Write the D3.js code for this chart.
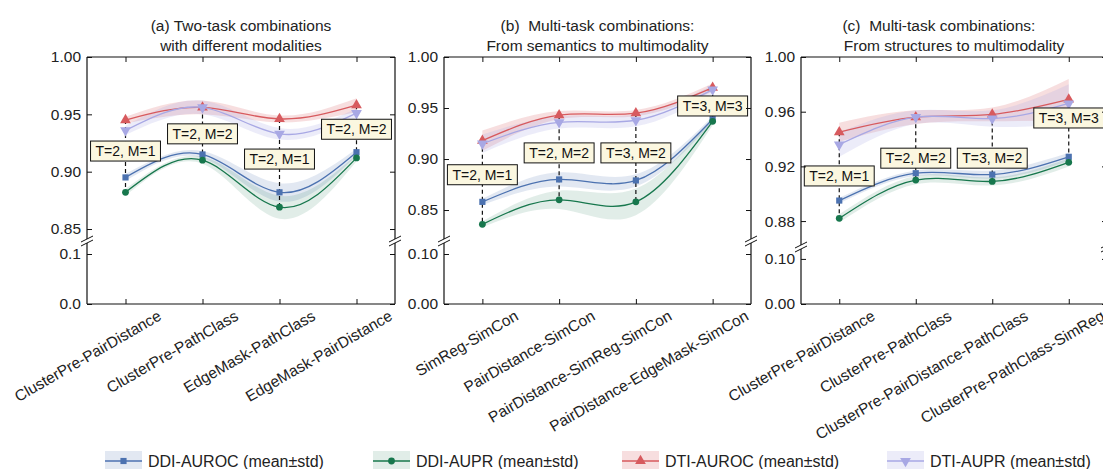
<!DOCTYPE html>
<html>
<head>
<meta charset="utf-8">
<script src="https://cdn.jsdelivr.net/npm/d3@7"></script>
<style>
  body { margin: 0; background: #fff; }
  svg { font-family: Arial, "Liberation Sans", sans-serif; }
</style>
</head>
<body>
<svg id="chart" width="1103" height="469"></svg>
<script>
// ---- data ----
let catsA = ["ClusterPre-PairDistance", "ClusterPre-PathClass", "EdgeMask-PathClass", "EdgeMask-PairDistance"];
let catsB = ["SimReg-SimCon", "PairDistance-SimCon", "PairDistance-SimReg-SimCon", "PairDistance-EdgeMask-SimCon"];
let catsC = ["ClusterPre-PairDistance", "ClusterPre-PathClass", "ClusterPre-PairDistance-PathClass", "ClusterPre-PathClass-SimReg"];
let cats = [catsA, catsB, catsC];

let titles = [
    ["(a) Two-task combinations", "with different modalities"],
    ["(b)  Multi-task combinations:", "From semantics to multimodality"],
    ["(c)  Multi-task combinations:       ", "From structures to multimodality"]
];

// mean values, one row per panel
let ddiAuroc = [[0.895, 0.915, 0.882, 0.917], [0.858, 0.880, 0.879, 0.939], [0.895, 0.915, 0.914, 0.927]];
let ddiAupr  = [[0.882, 0.910, 0.869, 0.912], [0.836, 0.860, 0.858, 0.937], [0.882, 0.910, 0.909, 0.923]];
let dtiAuroc = [[0.945, 0.956, 0.946, 0.958], [0.918, 0.943, 0.945, 0.970], [0.945, 0.956, 0.958, 0.969]];
let dtiAupr  = [[0.936, 0.956, 0.933, 0.951], [0.915, 0.936, 0.938, 0.968], [0.936, 0.956, 0.955, 0.966]];

// std values
let ddiAurocStd = [[0.003, 0.003, 0.008, 0.003], [0.003, 0.007, 0.006, 0.003], [0.002, 0.002, 0.003, 0.003]];
let ddiAuprStd  = [[0.003, 0.003, 0.010, 0.003], [0.003, 0.009, 0.013, 0.004], [0.003, 0.003, 0.003, 0.003]];
let dtiAurocStd = [[0.003, 0.006, 0.003, 0.006], [0.010, 0.004, 0.003, 0.004], [0.007, 0.005, 0.005, 0.015]];
let dtiAuprStd  = [[0.004, 0.006, 0.005, 0.004], [0.009, 0.006, 0.006, 0.004], [0.009, 0.005, 0.006, 0.014]];

// annotation boxes
let annoText = [
    ["T=2, M=1", "T=2, M=2", "T=2, M=1", "T=2, M=2"],
    ["T=2, M=1", "T=2, M=2", "T=3, M=2", "T=3, M=3"],
    ["T=2, M=1", "T=2, M=2", "T=3, M=2", "T=3, M=3"]
];
let annoY = [[0.918, 0.933, 0.911, 0.937], [0.8846, 0.906, 0.906, 0.952], [0.913, 0.926, 0.926, 0.9554]];

// y axis ticks
let yTicksTop = [[0.85, 0.90, 0.95, 1.00], [0.85, 0.90, 0.95, 1.00], [0.88, 0.92, 0.96, 1.00]];
let yTicksBottom = [0, 0.1];
let bottomFormats = [".1f", ".2f", ".2f"];

let seriesNames = ["DDI-AUROC (mean\u00b1std)", "DDI-AUPR (mean\u00b1std)", "DTI-AUROC (mean\u00b1std)", "DTI-AUPR (mean\u00b1std)"];
let seriesMeans = [ddiAuroc, ddiAupr, dtiAuroc, dtiAupr];
let seriesStds = [ddiAurocStd, ddiAuprStd, dtiAurocStd, dtiAuprStd];

// ---- styles / layout ----
let seriesColors = ["#4c72b0", "#17774d", "#d75a5e", "#a8a8e4"];
let bandOpacity = [0.16, 0.13, 0.2, 0.22];
let symbols = [d3.symbolSquare, d3.symbolCircle, d3.symbolTriangle, d3.symbolTriangle];
let symbolSizes = [38, 36, 50, 50];
let symbolRotate = [0, 0, 0, 180];

let plotTop = 57, plotBottom = 304;
let layout = [
    { left: 87, right: 395, brk: 241 },
    { left: 444, right: 751, brk: 241 },
    { left: 801, right: 1107, brk: 247 }
];
let yTopDomains = [[0.8413, 1.0], [0.8216, 1.0], [0.8625, 1.0]];
let yBottomDomain = [0, 0.122];

let svg = d3.select("#chart");

function symbolPath(k) {
    return d3.symbol().type(symbols[k]).size(symbolSizes[k])();
}

layout.forEach(function (L, p) {
    let g = svg.append("g");

    let x = d3.scalePoint().domain(cats[p]).range([L.left, L.right]).padding(0.5);
    let yTop = d3.scaleLinear().domain(yTopDomains[p]).range([L.brk - 2, plotTop]);
    let yBot = d3.scaleLinear().domain(yBottomDomain).range([plotBottom, L.brk + 2]);

    // title
    titles[p].forEach(function (t, i) {
        g.append("text")
            .attr("x", (L.left + L.right) / 2)
            .attr("y", 31 + i * 20)
            .attr("text-anchor", "middle")
            .style("font-size", "15.5px")
            .style("white-space", "pre")
            .attr("fill", "#222")
            .text(t);
    });

    // std bands
    seriesMeans.forEach(function (means, k) {
        let pts = means[p].map(function (m, i) { return { c: cats[p][i], m: m, s: seriesStds[k][p][i] }; });
        let area = d3.area()
            .curve(d3.curveNatural)
            .x(function (d) { return x(d.c); })
            .y0(function (d) { return yTop(d.m - d.s); })
            .y1(function (d) { return yTop(d.m + d.s); });
        g.append("path")
            .attr("d", area(pts))
            .attr("fill", seriesColors[k])
            .attr("fill-opacity", bandOpacity[k]);
    });

    // dashed guides from highest to lowest point
    cats[p].forEach(function (c, i) {
        let vals = seriesMeans.map(function (s) { return s[p][i]; });
        g.append("line")
            .attr("x1", x(c)).attr("x2", x(c))
            .attr("y1", yTop(d3.max(vals))).attr("y2", yTop(d3.min(vals)))
            .attr("stroke", "#111")
            .attr("stroke-width", 1.2)
            .attr("stroke-dasharray", "4,3");
    });

    // lines and markers
    seriesMeans.forEach(function (means, k) {
        let pts = means[p].map(function (m, i) { return { c: cats[p][i], m: m }; });
        let line = d3.line()
            .curve(d3.curveNatural)
            .x(function (d) { return x(d.c); })
            .y(function (d) { return yTop(d.m); });
        g.append("path")
            .attr("d", line(pts))
            .attr("fill", "none")
            .attr("stroke", seriesColors[k])
            .attr("stroke-width", 1.3);
        g.selectAll(null)
            .data(pts)
            .enter()
            .append("path")
            .attr("d", symbolPath(k))
            .attr("transform", function (d) {
                return "translate(" + x(d.c) + "," + yTop(d.m) + ") rotate(" + symbolRotate[k] + ")";
            })
            .attr("fill", seriesColors[k]);
    });

    // annotation boxes
    annoText[p].forEach(function (t, i) {
        let cx = x(cats[p][i]), cy = yTop(annoY[p][i]);
        let box = g.append("g");
        let rect = box.append("rect");
        let txt = box.append("text")
            .attr("x", cx)
            .attr("y", cy)
            .attr("text-anchor", "middle")
            .attr("dominant-baseline", "central")
            .style("font-size", "14px")
            .attr("fill", "#111")
            .text(t);
        let w = txt.node().getComputedTextLength();
        rect.attr("x", cx - w / 2 - 5).attr("y", cy - 10)
            .attr("width", w + 10).attr("height", 20)
            .attr("fill", "#fbf7e0")
            .attr("stroke", "#111")
            .attr("stroke-width", 1);
    });

    // spines (split at the break)
    let spines = [
        [L.left, plotTop, L.right, plotTop],
        [L.left, plotBottom, L.right, plotBottom],
        [L.left, plotTop, L.left, L.brk - 2],
        [L.right, plotTop, L.right, L.brk - 2],
        [L.left, L.brk + 2, L.left, plotBottom],
        [L.right, L.brk + 2, L.right, plotBottom]
    ];
    spines.forEach(function (s) {
        g.append("line")
            .attr("x1", s[0]).attr("y1", s[1]).attr("x2", s[2]).attr("y2", s[3])
            .attr("stroke", "#111").attr("stroke-width", 1.2);
    });

    // break marks
    [L.left, L.right].forEach(function (sx) {
        [L.brk - 2, L.brk + 2].forEach(function (sy) {
            g.append("line")
                .attr("x1", sx - 6).attr("y1", sy + 3)
                .attr("x2", sx + 6).attr("y2", sy - 3)
                .attr("stroke", "#111").attr("stroke-width", 1);
        });
    });

    // y axes (inward ticks)
    let axTop = d3.axisLeft(yTop).tickValues(yTicksTop[p]).tickFormat(d3.format(".2f"))
        .tickSizeInner(-5).tickSizeOuter(0).tickPadding(6);
    let axBot = d3.axisLeft(yBot).tickValues(yTicksBottom).tickFormat(d3.format(bottomFormats[p]))
        .tickSizeInner(-5).tickSizeOuter(0).tickPadding(6);
    [axTop, axBot].forEach(function (ax) {
        let a = g.append("g").attr("transform", "translate(" + L.left + ",0)").call(ax);
        a.select(".domain").remove();
        a.selectAll("text").style("font-size", "15.5px").attr("fill", "#222").attr("font-family", null);
        a.selectAll("line").attr("stroke", "#111");
    });
    [[yTop, yTicksTop[p]], [yBot, yTicksBottom]].forEach(function (pair) {
        let a = g.append("g").attr("transform", "translate(" + L.right + ",0)")
            .call(d3.axisRight(pair[0]).tickValues(pair[1]).tickFormat("").tickSizeInner(-5).tickSizeOuter(0));
        a.select(".domain").remove();
        a.selectAll("line").attr("stroke", "#111");
    });

    // x ticks top and bottom
    let xb = g.append("g").attr("transform", "translate(0," + plotBottom + ")")
        .call(d3.axisBottom(x).tickSizeInner(-5).tickSizeOuter(0).tickFormat(""));
    let xt = g.append("g").attr("transform", "translate(0," + plotTop + ")")
        .call(d3.axisTop(x).tickSizeInner(-5).tickSizeOuter(0).tickFormat(""));
    [xb, xt].forEach(function (a) {
        a.select(".domain").remove();
        a.selectAll("line").attr("stroke", "#111");
    });

    // rotated category labels
    g.selectAll(null)
        .data(cats[p])
        .enter()
        .append("text")
        .attr("transform", function (d) { return "translate(" + (x(d) + 37) + ",319) rotate(-30)"; })
        .attr("text-anchor", "end")
        .style("font-size", "15.5px")
        .attr("fill", "#222")
        .text(function (d) { return d; });
});

// ---- legend ----
let legendX = [105, 373, 622, 887];
let legendY = 461;
seriesNames.forEach(function (name, k) {
    let lg = svg.append("g").attr("transform", "translate(" + legendX[k] + "," + legendY + ")");
    lg.append("rect")
        .attr("x", 0).attr("y", -10).attr("width", 37).attr("height", 20)
        .attr("fill", seriesColors[k]).attr("fill-opacity", bandOpacity[k]);
    lg.append("line")
        .attr("x1", 0).attr("x2", 37).attr("y1", 0).attr("y2", 0)
        .attr("stroke", seriesColors[k]).attr("stroke-width", 1.3);
    lg.append("path")
        .attr("d", symbolPath(k))
        .attr("transform", "translate(18.5,0) rotate(" + symbolRotate[k] + ")")
        .attr("fill", seriesColors[k]);
    lg.append("text")
        .attr("x", 43).attr("y", 0)
        .attr("dominant-baseline", "central")
        .style("font-size", "16px")
        .attr("fill", "#222")
        .text(name);
});
</script>
</body>
</html>
